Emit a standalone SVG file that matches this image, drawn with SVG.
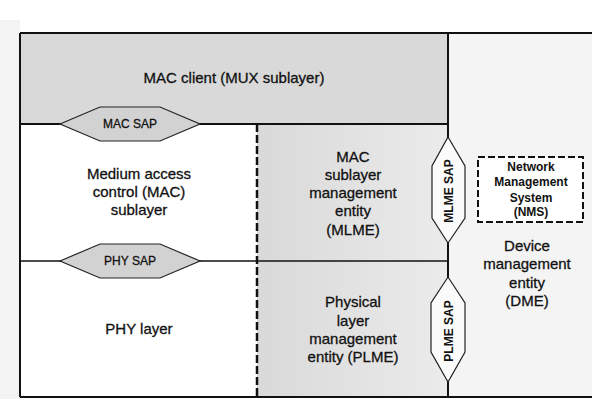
<svg xmlns="http://www.w3.org/2000/svg" width="592" height="399" viewBox="0 0 592 399">
  <style>
    .t { font-family: "Liberation Sans", Arial, sans-serif; font-size: 15px; fill: #111; stroke: #111; stroke-width: 0.3; text-anchor: middle; }
    .sap { font-family: "Liberation Sans", Arial, sans-serif; font-size: 12px; fill: #111; stroke: #111; stroke-width: 0.3; text-anchor: middle; }
    .sapb { font-family: "Liberation Sans", Arial, sans-serif; font-size: 12px; font-weight: bold; fill: #111; text-anchor: middle; }
    .nms { font-family: "Liberation Sans", Arial, sans-serif; font-size: 12px; font-weight: bold; fill: #111; text-anchor: middle; }
    .line { stroke: #111; fill: none; }
    .hexg { fill: #d2d2d2; stroke: #222; stroke-width: 1.2; }
    .hexw { fill: #fbfbfb; stroke: #222; stroke-width: 1.2; }
  </style>
  <defs>
    <linearGradient id="mgmt" x1="0" y1="0" x2="1" y2="0">
      <stop offset="0" stop-color="#d9d9d9"/>
      <stop offset="1" stop-color="#ebebeb"/>
    </linearGradient>
  </defs>
  <rect x="0" y="0" width="592" height="399" fill="#ffffff"/>
  <rect x="0" y="20" width="20" height="379" fill="#f3f3f3"/>

  <g id="mac-client">
    <rect x="20" y="33" width="428" height="91" fill="#d9d9d9"/>
    <text class="t" x="234" y="83">MAC client (MUX sublayer)</text>
  </g>
  <g id="mac-sublayer">
    <rect x="20" y="124" width="237" height="137" fill="#ffffff"/>
    <text class="t" x="139" y="179">Medium access</text>
    <text class="t" x="139" y="197">control (MAC)</text>
    <text class="t" x="139" y="215">sublayer</text>
  </g>
  <g id="phy-layer">
    <rect x="20" y="261" width="237" height="136" fill="#ffffff"/>
    <text class="t" x="139" y="334">PHY layer</text>
  </g>
  <g id="mlme">
    <rect x="257" y="124" width="191" height="137" fill="url(#mgmt)"/>
    <text class="t" x="353" y="162">MAC</text>
    <text class="t" x="353" y="180">sublayer</text>
    <text class="t" x="353" y="198">management</text>
    <text class="t" x="353" y="216">entity</text>
    <text class="t" x="353" y="235">(MLME)</text>
  </g>
  <g id="plme">
    <rect x="257" y="261" width="191" height="136" fill="url(#mgmt)"/>
    <text class="t" x="353" y="307">Physical</text>
    <text class="t" x="353" y="326">layer</text>
    <text class="t" x="353" y="344">management</text>
    <text class="t" x="353" y="362">entity (PLME)</text>
  </g>
  <g id="dme">
    <rect x="448" y="33" width="144" height="364" fill="#f4f4f4"/>
    <text class="t" x="527" y="251">Device</text>
    <text class="t" x="527" y="269">management</text>
    <text class="t" x="527" y="288">entity</text>
    <text class="t" x="527" y="306">(DME)</text>
  </g>

  <g id="connectors">
    <line class="line" x1="20" y1="33" x2="592" y2="33" stroke-width="2"/>
    <line class="line" x1="20" y1="33" x2="20" y2="397" stroke-width="2"/>
    <line class="line" x1="20" y1="397" x2="592" y2="397" stroke-width="2"/>
    <line class="line" x1="20" y1="124" x2="448" y2="124" stroke-width="1.8"/>
    <line class="line" x1="20" y1="261" x2="448" y2="261" stroke-width="1.5"/>
    <line class="line" x1="448" y1="33" x2="448" y2="397" stroke-width="2"/>
    <line class="line" x1="257" y1="124" x2="257" y2="397" stroke-width="2.5" stroke-dasharray="8,3"/>
  </g>

  <g id="mac-sap">
    <polygon class="hexg" points="60,124 100,107 160,107 200,124 160,141 100,141"/>
    <text class="sap" x="130" y="128">MAC SAP</text>
  </g>
  <g id="phy-sap">
    <polygon class="hexg" points="60,261 100,244 160,244 200,261 160,278 100,278"/>
    <text class="sap" x="130" y="265">PHY SAP</text>
  </g>
  <g id="mlme-sap">
    <polygon class="hexw" points="448,137 465,166 465,218 448,243 432,218 432,166"/>
    <text class="sapb" transform="translate(452.5,191) rotate(-90)" x="0" y="0">MLME SAP</text>
  </g>
  <g id="plme-sap">
    <polygon class="hexw" points="448,277 465,303 465,352 448,382 431,352 431,303"/>
    <text class="sapb" transform="translate(452.5,331) rotate(-90)" x="0" y="0">PLME SAP</text>
  </g>
  <g id="nms">
    <rect x="478" y="157" width="105" height="65" fill="#ffffff" stroke="#111" stroke-width="2" stroke-dasharray="7,3"/>
    <text class="nms" x="531" y="171">Network</text>
    <text class="nms" x="531" y="186">Management</text>
    <text class="nms" x="531" y="202">System</text>
    <text class="nms" x="531" y="216">(NMS)</text>
  </g>
</svg>
